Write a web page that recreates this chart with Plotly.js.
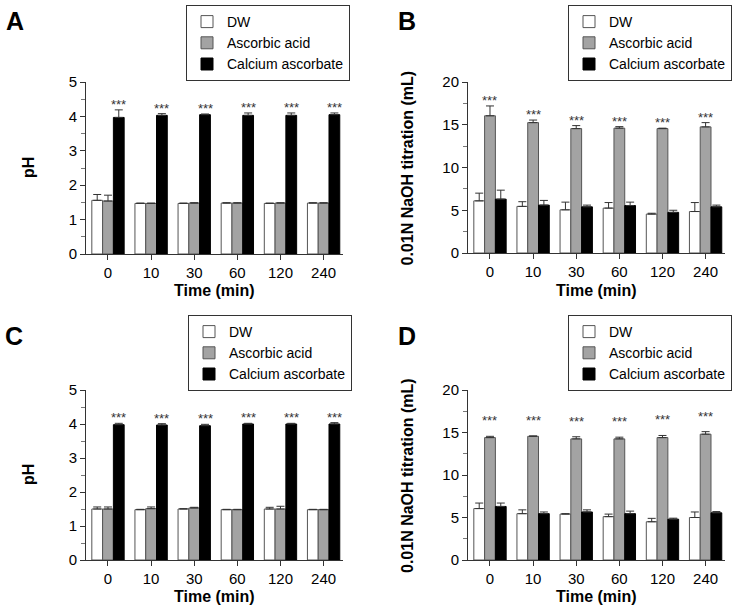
<!DOCTYPE html>
<html>
<head>
<meta charset="utf-8">
<script src="https://cdn.plot.ly/plotly-3.0.1.min.js"></script>
<style>html,body{margin:0;padding:0;background:#fff;}#chart{width:739px;height:615px;}</style>
</head>
<body>
<div id="chart"></div>
<script>
// ---- data ----
const times = ['0', '10', '30', '60', '120', '240'];
const seriesNames = ['DW', 'Ascorbic acid', 'Calcium ascorbate'];

// Panel A: pH
const phA_dw = [1.56, 1.47, 1.47, 1.48, 1.47, 1.48];
const phA_dwErr = [0.17, 0.01, 0.01, 0.01, 0.01, 0.01];
const phA_aa = [1.54, 1.47, 1.48, 1.48, 1.48, 1.48];
const phA_aaErr = [0.17, 0.01, 0.01, 0.01, 0.01, 0.01];
const phA_ca = [3.97, 4.03, 4.05, 4.03, 4.03, 4.05];
const phA_caErr = [0.22, 0.05, 0.02, 0.07, 0.07, 0.05];

// Panel B: 0.01N NaOH titration (mL)
const tiB_dw = [6.1, 5.45, 5.05, 5.25, 4.55, 4.85];
const tiB_dwErr = [0.9, 0.55, 0.9, 0.65, 0.1, 1.05];
const tiB_aa = [16.05, 15.25, 14.55, 14.6, 14.55, 14.75];
const tiB_aaErr = [1.15, 0.3, 0.35, 0.18, 0.05, 0.5];
const tiB_ca = [6.3, 5.6, 5.4, 5.55, 4.75, 5.4];
const tiB_caErr = [1.05, 0.55, 0.2, 0.4, 0.25, 0.2];

// Panel C: pH
const phC_dw = [1.50, 1.48, 1.50, 1.48, 1.50, 1.48];
const phC_dwErr = [0.06, 0.01, 0.01, 0.01, 0.05, 0.01];
const phC_aa = [1.50, 1.51, 1.53, 1.48, 1.50, 1.48];
const phC_aaErr = [0.06, 0.05, 0.02, 0.01, 0.08, 0.01];
const phC_ca = [3.98, 3.97, 3.95, 4.00, 4.00, 4.00];
const phC_caErr = [0.04, 0.04, 0.04, 0.02, 0.02, 0.04];

// Panel D: 0.01N NaOH titration (mL)
const tiD_dw = [6.05, 5.45, 5.4, 5.1, 4.5, 5.0];
const tiD_dwErr = [0.65, 0.45, 0.05, 0.3, 0.4, 0.65];
const tiD_aa = [14.4, 14.55, 14.25, 14.25, 14.4, 14.8];
const tiD_aaErr = [0.15, 0.05, 0.25, 0.2, 0.25, 0.3];
const tiD_ca = [6.3, 5.45, 5.65, 5.45, 4.8, 5.55];
const tiD_caErr = [0.4, 0.2, 0.25, 0.3, 0.12, 0.15];

const panelLetters = ['A', 'B', 'C', 'D'];
const phTitle = 'pH';
const tiTitle = '0.01N NaOH titration (mL)';
const xTitle = 'Time (min)';
const starText = '***';

// ---- styling ----
const FONT = 'Liberation Sans, Arial, Helvetica, sans-serif';
const fills = ['#ffffff', '#a3a3a3', '#000000'];
const outlines = ['#555555', '#555555', '#000000'];
const W = 739, H = 615;
const BARGAP = 0.25;

const panels = [
  {xa: 'x', ya: 'y', leg: 'legend', vals: [phA_dw, phA_aa, phA_ca], errs: [phA_dwErr, phA_aaErr, phA_caErr],
   star: 2, yTitle: phTitle, yr: [0, 5], dt: 1, px: [86, 343], py: [82, 254], starShift: -4,
   legPos: [186, 5], letterPos: [15, 21], yTitleX: 28, xTitleY: 290},
  {xa: 'x2', ya: 'y2', leg: 'legend2', vals: [tiB_dw, tiB_aa, tiB_ca], errs: [tiB_dwErr, tiB_aaErr, tiB_caErr],
   star: 1, yTitle: tiTitle, yr: [0, 20], dt: 5, px: [468, 725], py: [82, 253], starShift: -4,
   legPos: [568, 5], letterPos: [407, 21], yTitleX: 407, xTitleY: 290},
  {xa: 'x3', ya: 'y3', leg: 'legend3', vals: [phC_dw, phC_aa, phC_ca], errs: [phC_dwErr, phC_aaErr, phC_caErr],
   star: 2, yTitle: phTitle, yr: [0, 5], dt: 1, px: [86, 343], py: [390, 560], starShift: -4,
   legPos: [188, 315], letterPos: [14, 336], yTitleX: 28, xTitleY: 596},
  {xa: 'x4', ya: 'y4', leg: 'legend4', vals: [tiD_dw, tiD_aa, tiD_ca], errs: [tiD_dwErr, tiD_aaErr, tiD_caErr],
   star: 1, yTitle: tiTitle, yr: [0, 20], dt: 5, px: [468, 725], py: [390, 560], starShift: 6,
   legPos: [568, 315], letterPos: [407, 336], yTitleX: 407, xTitleY: 596}
];

const idx = times.map((t, i) => i);
const traces = [];
const annotations = [];
const layout = {
  width: W, height: H,
  margin: {l: 0, r: 0, t: 0, b: 0},
  paper_bgcolor: '#ffffff', plot_bgcolor: '#ffffff',
  barmode: 'group', bargap: BARGAP, bargroupgap: 0,
  font: {family: FONT, color: '#000'},
  showlegend: true
};

panels.forEach((p, k) => {
  p.vals.forEach((v, s) => {
    traces.push({
      type: 'bar', x: idx, y: v, name: seriesNames[s],
      xaxis: p.xa, yaxis: p.ya, legend: p.leg,
      marker: {color: fills[s], line: {color: outlines[s], width: 1}},
      error_y: {type: 'data', symmetric: false, array: p.errs[s], arrayminus: v.map(() => 0),
                color: '#333333', thickness: 1, width: 4},
      hoverinfo: 'skip'
    });
  });
  const xKey = 'xaxis' + (k === 0 ? '' : (k + 1));
  const yKey = 'yaxis' + (k === 0 ? '' : (k + 1));
  layout[xKey] = {
    domain: [p.px[0] / W, p.px[1] / W], anchor: p.ya,
    range: [-0.51, 5.45], tickmode: 'array', tickvals: idx, ticktext: times,
    ticks: 'outside', ticklen: 5, tickwidth: 1, tickcolor: '#333',
    showline: true, linecolor: '#333', linewidth: 1,
    showgrid: false, zeroline: false, fixedrange: true,
    tickfont: {family: FONT, size: 15, color: '#000'}
  };
  layout[yKey] = {
    domain: [1 - p.py[1] / H, 1 - p.py[0] / H], anchor: p.xa,
    range: p.yr, dtick: p.dt, tick0: 0,
    ticks: 'outside', ticklen: 5, tickwidth: 1, tickcolor: '#333',
    minor: {dtick: p.dt / 2, ticks: 'outside', ticklen: 4, tickcolor: '#777', tickwidth: 1},
    showline: true, linecolor: '#333', linewidth: 1,
    showgrid: false, zeroline: false, fixedrange: true,
    tickfont: {family: FONT, size: 15, color: '#000'}
  };
  layout[p.leg] = {
    x: p.legPos[0] / W, y: 1 - p.legPos[1] / H, xanchor: 'left', yanchor: 'top',
    bordercolor: '#333', borderwidth: 1, bgcolor: '#fff',
    font: {family: FONT, size: 14, color: '#000'}, tracegroupgap: 0
  };
  // significance stars above the marked bar
  const off = (p.star - 1) * (1 - BARGAP) / 3;
  const sv = p.vals[p.star], se = p.errs[p.star];
  idx.forEach(i => {
    annotations.push({
      xref: p.xa, yref: p.ya, x: i + off, y: sv[i] + se[i],
      text: starText, showarrow: false, xanchor: 'center', yanchor: 'bottom',
      yshift: p.starShift, font: {family: FONT, size: 13, color: '#333'}
    });
  });
  // panel letter
  annotations.push({
    xref: 'paper', yref: 'paper', x: p.letterPos[0] / W, y: 1 - p.letterPos[1] / H,
    text: panelLetters[k], showarrow: false, xanchor: 'center', yanchor: 'middle',
    font: {family: FONT, size: 25, color: '#000', weight: 'bold'}
  });
  // y title
  annotations.push({
    xref: 'paper', yref: 'paper', x: p.yTitleX / W, y: 1 - ((p.py[0] + p.py[1]) / 2) / H,
    text: p.yTitle, textangle: -90, showarrow: false, xanchor: 'center', yanchor: 'middle',
    font: {family: FONT, size: 16, color: '#000', weight: 'bold'}
  });
  // x title
  annotations.push({
    xref: 'paper', yref: 'paper', x: ((p.px[0] + p.px[1]) / 2) / W, y: 1 - p.xTitleY / H,
    text: xTitle, showarrow: false, xanchor: 'center', yanchor: 'middle',
    font: {family: FONT, size: 16, color: '#000', weight: 'bold'}
  });
});
layout.annotations = annotations;

Plotly.newPlot('chart', traces, layout, {staticPlot: true, displayModeBar: false});
</script>
</body>
</html>
